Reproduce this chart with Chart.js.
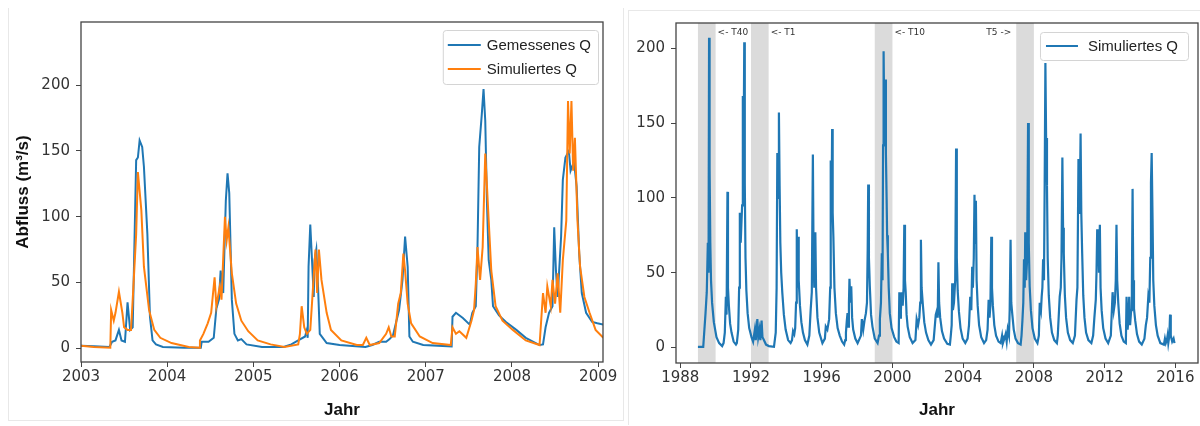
<!DOCTYPE html>
<html>
<head>
    <title>Abfluss Gemessen / Simuliert</title>
    <style>
        body { margin: 0; background: #fff; width: 1200px; height: 426px; overflow: hidden; position: relative; }
        .box { position: absolute; }
        #leftBox { left: 0; top: 0; width: 620px; height: 426px; }
        #rightBox { left: 620px; top: 0; width: 580px; height: 426px; }
        .frameL { position: absolute; left: 8px; top: 8px; width: 614px; height: 412px; border-left: 1px solid #e8e8e8; border-right: 1px solid #e8e8e8; border-bottom: 1px solid #e8e8e8; }
        .frameR { position: absolute; left: 628px; top: 10px; width: 572px; height: 414px; border-left: 1px solid #e8e8e8; border-top: 1px solid #e8e8e8; }
    </style>
</head>
<body>
    <div class="frameL"></div>
    <div class="frameR"></div>
    <div class="box" id="leftBox"><canvas id="leftChart" width="620" height="426"></canvas></div>
    <div class="box" id="rightBox"><canvas id="rightChart" width="580" height="426"></canvas></div>

    <script src="https://cdn.jsdelivr.net/npm/chart.js"></script>
    <script>
        // [Jahr, Q in m3/s]
        const gemessenQ = [
            [2003.00,2],[2003.15,1.5],[2003.33,1],[2003.36,5],[2003.40,6],[2003.44,14],[2003.47,6],[2003.51,5],[2003.54,35],[2003.57,14],
            [2003.60,16],[2003.64,143],[2003.66,145],[2003.68,158],[2003.71,153],[2003.73,138],[2003.77,87],[2003.80,24],[2003.83,6],[2003.87,3],
            [2003.95,1],[2004.20,0.5],[2004.39,0.5],[2004.40,5],[2004.48,5],[2004.54,8],[2004.57,30],[2004.60,37],[2004.62,59],[2004.65,42],
            [2004.68,112],[2004.70,133],[2004.72,118],[2004.75,37],[2004.78,11],[2004.82,6],[2004.86,7],[2004.92,3],[2005.10,1],[2005.35,1],
            [2005.44,3],[2005.52,6],[2005.60,9],[2005.62,14],[2005.63,8],[2005.64,62],[2005.66,94],[2005.68,67],[2005.70,39],[2005.71,67],
            [2005.73,75],[2005.75,47],[2005.77,11],[2005.85,4],[2006.00,2.5],[2006.30,1],[2006.38,2.5],[2006.46,5],[2006.54,5],[2006.58,7],
            [2006.62,10],[2006.66,21],[2006.69,29],[2006.73,52],[2006.76,85],[2006.79,62],[2006.81,9],[2006.85,5],[2006.97,2.5],[2007.30,1.5],
            [2007.31,24],[2007.35,27],[2007.43,23],[2007.51,18],[2007.54,27],[2007.58,32],[2007.60,77],[2007.62,153],[2007.65,178],[2007.67,197],
            [2007.69,173],[2007.71,110],[2007.73,67],[2007.76,52],[2007.78,32],[2007.85,25],[2007.93,20],[2008.05,14],[2008.16,8],[2008.32,2.5],
            [2008.36,3],[2008.39,16],[2008.43,27],[2008.47,32],[2008.49,92],[2008.51,59],[2008.53,39],[2008.57,85],[2008.59,128],[2008.62,145],
            [2008.66,150],[2008.68,135],[2008.72,142],[2008.75,123],[2008.78,72],[2008.81,42],[2008.86,27],[2008.93,20],[2008.99,19],[2009.06,18]
        ];
        const simuliertQ = [
            [2003.00,2],[2003.15,1],[2003.34,0.5],[2003.35,29],[2003.38,21],[2003.40,27],[2003.44,43],[2003.48,27],[2003.50,16],[2003.54,14],
            [2003.58,14],[2003.60,37],[2003.64,87],[2003.66,134],[2003.70,105],[2003.73,62],[2003.79,29],[2003.85,14],[2003.92,8],[2004.05,4],
            [2004.25,1],[2004.37,0.5],[2004.38,6],[2004.42,11],[2004.47,19],[2004.51,27],[2004.55,54],[2004.57,32],[2004.61,47],[2004.63,37],
            [2004.67,100],[2004.69,82],[2004.71,92],[2004.75,57],[2004.80,34],[2004.86,21],[2004.94,13],[2005.05,6],[2005.20,3],[2005.36,1],
            [2005.52,3],[2005.54,11],[2005.56,32],[2005.59,16],[2005.62,11],[2005.66,14],[2005.72,75],[2005.74,42],[2005.76,75],[2005.79,52],
            [2005.85,27],[2005.90,14],[2006.02,6],[2006.20,2.5],[2006.27,2.5],[2006.31,8],[2006.35,2.5],[2006.46,4],[2006.54,11],[2006.57,16],
            [2006.60,9],[2006.64,9],[2006.68,34],[2006.71,42],[2006.74,72],[2006.76,59],[2006.79,34],[2006.83,19],[2006.93,9],[2007.08,4],
            [2007.29,2.5],[2007.31,16],[2007.35,11],[2007.39,13],[2007.47,8],[2007.53,21],[2007.56,29],[2007.58,49],[2007.60,77],[2007.63,52],
            [2007.66,77],[2007.69,148],[2007.71,123],[2007.73,97],[2007.76,59],[2007.81,32],[2007.89,21],[2008.01,14],[2008.16,6],[2008.32,2.5],
            [2008.36,42],[2008.39,27],[2008.41,47],[2008.45,32],[2008.47,52],[2008.50,34],[2008.53,57],[2008.56,27],[2008.59,67],[2008.63,97],
            [2008.65,188],[2008.67,148],[2008.69,188],[2008.71,135],[2008.73,160],[2008.76,97],[2008.79,62],[2008.84,39],[2008.90,27],[2008.97,14],
            [2009.06,8]
        ];
        // Langzeit-Simulation 1989-2015
        const langzeitQ = [
            [1989.00,0.5],[1989.30,0.5],[1989.43,23],[1989.50,37],[1989.56,70],[1989.60,50],[1989.63,207],[1989.66,120],[1989.70,70],[1989.74,45],
            [1989.80,30],[1989.90,17],[1990.05,7],[1990.20,3],[1990.37,1],
            [1990.45,3],[1990.52,10],[1990.58,34],[1990.62,22],[1990.67,104],[1990.70,40],[1990.75,28],[1990.82,16],[1990.90,10],[1991.02,4],[1991.15,2],
            [1991.20,3],[1991.28,12],[1991.33,40],[1991.37,90],[1991.42,70],[1991.47,86],[1991.50,95],[1991.54,168],[1991.58,120],[1991.62,204],
            [1991.65,110],[1991.69,60],[1991.74,38],[1991.81,23],[1991.90,13],[1992.03,7],[1992.12,4],[1992.22,12],[1992.27,5],[1992.36,19],
            [1992.41,7],[1992.48,12],[1992.53,5],[1992.60,18],[1992.65,7],[1992.73,5],[1992.85,2],[1993.01,1],[1993.30,0.5],
            [1993.40,10],[1993.45,40],[1993.49,130],[1993.53,100],[1993.58,157],[1993.62,108],[1993.66,70],[1993.71,50],[1993.77,37],[1993.86,22],
            [1993.96,12],[1994.10,5],[1994.24,3],
            [1994.32,5],[1994.38,11],[1994.45,9],[1994.50,13],[1994.55,30],[1994.59,79],[1994.63,40],[1994.66,74],[1994.70,45],[1994.77,28],
            [1994.85,17],[1994.94,10],[1995.05,5],[1995.19,2],
            [1995.30,8],[1995.38,26],[1995.44,37],[1995.50,129],[1995.54,60],[1995.58,40],[1995.64,77],[1995.68,40],[1995.76,20],[1995.86,10],[1996.04,3],
            [1996.18,6],[1996.23,14],[1996.32,12],[1996.42,19],[1996.48,40],[1996.51,125],[1996.55,85],[1996.59,146],[1996.62,90],[1996.66,74],
            [1996.72,40],[1996.80,23],[1996.90,13],[1997.02,8],[1997.15,4],[1997.27,2],
            [1997.33,5],[1997.37,10],[1997.42,18],[1997.46,23],[1997.50,14],[1997.54,30],[1997.57,46],[1997.62,30],[1997.67,41],[1997.72,20],
            [1997.78,12],[1997.90,6],[1998.03,3],
            [1998.22,8],[1998.27,19],[1998.35,12],[1998.42,18],[1998.50,23],[1998.56,30],[1998.60,65],[1998.63,109],[1998.67,60],[1998.72,41],
            [1998.79,22],[1998.87,14],[1999.00,6],[1999.16,3],
            [1999.24,8],[1999.29,19],[1999.35,30],[1999.40,63],[1999.44,45],[1999.47,135],[1999.50,198],[1999.54,150],[1999.59,179],[1999.63,130],
            [1999.67,100],[1999.70,75],[1999.74,63],[1999.79,40],[1999.85,23],[1999.95,13],[2000.10,7],[2000.22,4],[2000.35,3],
            [2000.39,37],[2000.44,20],[2000.48,25],[2000.52,37],[2000.58,28],[2000.63,40],[2000.67,82],[2000.71,45],[2000.75,37],[2000.80,22],
            [2000.86,14],[2000.98,7],[2001.14,3],
            [2001.30,5],[2001.37,19],[2001.45,15],[2001.52,20],[2001.57,30],[2001.61,72],[2001.65,40],[2001.71,30],[2001.80,17],[2001.90,10],
            [2002.03,5],[2002.18,2],
            [2002.33,5],[2002.38,12],[2002.45,22],[2002.52,25],[2002.56,20],[2002.60,57],[2002.64,30],[2002.70,20],[2002.80,11],[2002.92,6],
            [2003.10,2.5],[2003.25,2],
            [2003.30,8],[2003.35,15],[2003.38,43],[2003.42,25],[2003.48,30],[2003.55,45],[2003.60,133],[2003.64,60],[2003.69,38],[2003.76,24],
            [2003.85,13],[2003.97,6],[2004.12,3],
            [2004.25,6],[2004.33,15],[2004.40,34],[2004.46,25],[2004.51,54],[2004.55,40],[2004.60,60],[2004.64,102],[2004.68,70],[2004.72,98],
            [2004.76,45],[2004.82,28],[2004.90,15],[2005.02,7],[2005.18,3],
            [2005.30,5],[2005.38,12],[2005.44,32],[2005.49,20],[2005.54,28],[2005.59,74],[2005.63,40],[2005.68,28],[2005.76,15],[2005.86,8],
            [2006.00,4],[2006.12,3],[2006.20,8],[2006.25,3],
            [2006.33,6],[2006.40,9],[2006.46,4],[2006.52,12],[2006.59,8],[2006.63,25],[2006.68,72],[2006.72,30],[2006.78,22],[2006.86,12],
            [2006.96,6],[2007.10,3],[2007.25,2],
            [2007.30,8],[2007.35,18],[2007.40,30],[2007.44,59],[2007.48,40],[2007.51,77],[2007.56,45],[2007.62,60],[2007.67,150],[2007.71,70],
            [2007.76,41],[2007.83,25],[2007.92,13],[2008.05,6],[2008.20,3],
            [2008.28,8],[2008.33,30],[2008.40,25],[2008.44,34],[2008.48,40],[2008.52,59],[2008.57,45],[2008.61,110],[2008.65,190],[2008.69,140],
            [2008.74,108],[2008.78,60],[2008.84,35],[2008.92,20],[2009.02,10],[2009.15,5],[2009.30,3],
            [2009.35,8],[2009.40,20],[2009.46,34],[2009.52,40],[2009.56,60],[2009.61,127],[2009.65,80],[2009.69,63],[2009.75,35],[2009.82,20],
            [2009.92,10],[2010.05,5],[2010.20,3],
            [2010.32,8],[2010.41,32],[2010.46,40],[2010.52,126],[2010.56,90],[2010.60,100],[2010.64,143],[2010.68,90],[2010.73,63],[2010.79,35],
            [2010.86,20],[2010.95,10],[2011.08,5],[2011.25,3],
            [2011.35,8],[2011.42,20],[2011.50,32],[2011.54,50],[2011.58,79],[2011.61,60],[2011.64,72],[2011.68,50],[2011.73,82],[2011.77,40],
            [2011.83,25],[2011.92,13],[2012.05,6],[2012.20,3],
            [2012.35,8],[2012.45,37],[2012.52,25],[2012.58,30],[2012.63,45],[2012.67,82],[2012.71,45],[2012.77,30],[2012.85,16],[2012.95,8],
            [2013.08,4],[2013.20,3],
            [2013.24,34],[2013.30,12],[2013.35,20],[2013.39,34],[2013.44,15],[2013.50,25],[2013.54,40],[2013.58,106],[2013.62,45],[2013.66,26],
            [2013.73,18],[2013.83,9],[2013.95,4],[2014.10,2],
            [2014.25,6],[2014.33,15],[2014.40,20],[2014.47,34],[2014.53,30],[2014.58,60],[2014.62,110],[2014.66,130],[2014.71,86],[2014.75,45],
            [2014.81,28],[2014.90,15],[2015.00,8],[2015.15,3],[2015.35,2],
            [2015.41,6],[2015.46,3],[2015.52,5],[2015.56,8],[2015.60,3],[2015.66,8],[2015.70,22],[2015.74,8],[2015.82,4],[2015.90,6],[2015.95,3]
        ];

        const leftXTicks = [2003, 2004, 2005, 2006, 2007, 2008, 2009];
        const rightXTicks = [1988, 1992, 1996, 2000, 2004, 2008, 2012, 2016];
        const yTicks = [0, 50, 100, 150, 200];

        // grau hinterlegte Zeiträume + Beschriftung
        const spans = [[1989, 1990], [1992, 1993], [1999, 2000], [2007, 2008]];
        const spanLabels = [
            { text: '<- T40', at: 1990, side: 'right' },
            { text: '<- T1', at: 1993, side: 'right' },
            { text: '<- T10', at: 2000, side: 'right' },
            { text: 'T5 ->', at: 2007, side: 'left' }
        ];

        const BLUE = '#1f77b4', ORANGE = '#ff7f0e';
        const tickFont = { family: 'DejaVu Sans', size: 15 };
        const titleFont = { family: 'Liberation Sans', size: 17, weight: 'bold' };

        const toXY = arr => arr.map(p => ({ x: p[0], y: p[1] }));

        const framePlugin = {
            id: 'frame',
            afterDraw(chart) {
                const a = chart.chartArea, c = chart.ctx;
                c.save();
                c.strokeStyle = '#444';
                c.lineWidth = 1.3;
                c.strokeRect(a.left, a.top, a.right - a.left, a.bottom - a.top);
                c.restore();
            }
        };

        const boxLegend = {
            id: 'boxLegend',
            afterDraw(chart, args, o) {
                const c = chart.ctx, a = chart.chartArea;
                c.save();
                c.font = '15px "Liberation Sans", Arial, sans-serif';
                const items = chart.data.datasets;
                const tw = Math.max(...items.map(d => c.measureText(d.label).width));
                const w = o.padL + o.lineLen + o.gap + tw + o.padR;
                const h = 6 + items.length * o.row;
                const x = a.right - o.inset - w, y = a.top + o.top;
                c.fillStyle = 'rgba(255,255,255,0.85)';
                c.strokeStyle = '#d4d4d4';
                c.lineWidth = 1;
                c.beginPath();
                c.roundRect(x + 0.5, y + 0.5, w, h, 3);
                c.fill(); c.stroke();
                items.forEach((d, i) => {
                    const cy = y + 3 + o.row * (i + 0.5);
                    c.strokeStyle = d.borderColor;
                    c.lineWidth = 2.2;
                    c.beginPath();
                    c.moveTo(x + o.padL, cy); c.lineTo(x + o.padL + o.lineLen, cy);
                    c.stroke();
                    c.fillStyle = '#222';
                    c.textBaseline = 'middle';
                    c.fillText(d.label, x + o.padL + o.lineLen + o.gap, cy + 1);
                });
                c.restore();
            }
        };

        const spanPlugin = {
            id: 'spans',
            beforeDatasetsDraw(chart) {
                const c = chart.ctx, a = chart.chartArea, xs = chart.scales.x;
                c.save();
                c.fillStyle = 'rgba(190,190,190,0.55)';
                spans.forEach(s => {
                    const x0 = xs.getPixelForValue(s[0]), x1 = xs.getPixelForValue(s[1]);
                    c.fillRect(x0, a.top, x1 - x0, a.bottom - a.top);
                });
                c.font = '9px "DejaVu Sans"';
                c.fillStyle = '#333';
                c.textBaseline = 'middle';
                spanLabels.forEach(l => {
                    const px = xs.getPixelForValue(l.at);
                    c.textAlign = l.side === 'right' ? 'left' : 'right';
                    c.fillText(l.text, l.side === 'right' ? px + 2 : px - 5, a.top + 10);
                });
                c.restore();
            }
        };

        function xAxis(min, max, ticks, height) {
            return {
                type: 'linear', min: min, max: max,
                afterBuildTicks: s => { s.ticks = ticks.map(v => ({ value: v })); },
                afterFit: s => { s.height = height; s.paddingLeft = 0; s.paddingRight = 0; },
                border: { display: false },
                grid: { drawOnChartArea: false, drawTicks: true, tickLength: 5, color: '#444' },
                ticks: { font: tickFont, color: '#333', padding: 1, maxRotation: 0, callback: v => String(v) },
                title: { display: true, text: 'Jahr', font: titleFont, color: '#111', padding: { top: 0, bottom: 5 } }
            };
        }

        function yAxis(min, max, width, title) {
            return {
                min: min, max: max,
                afterBuildTicks: s => { s.ticks = yTicks.map(v => ({ value: v })); },
                afterFit: s => { s.width = width; s.paddingTop = 0; s.paddingBottom = 0; },
                border: { display: false },
                grid: { drawOnChartArea: false, drawTicks: true, tickLength: 5, color: '#444' },
                ticks: { font: tickFont, color: '#333', padding: 6, callback: v => String(v) },
                title: title ? { display: true, text: title, font: titleFont, color: '#111', padding: { top: 13, bottom: 0 } } : { display: false }
            };
        }

        new Chart(document.getElementById('leftChart'), {
            type: 'line',
            data: {
                datasets: [
                    { label: 'Gemessenes Q', data: toXY(gemessenQ), borderColor: BLUE, borderWidth: 2, pointRadius: 0, tension: 0, order: 1 },
                    { label: 'Simuliertes Q', data: toXY(simuliertQ), borderColor: ORANGE, borderWidth: 2, pointRadius: 0, tension: 0, order: 0 }
                ]
            },
            options: {
                responsive: false, animation: false, devicePixelRatio: 1,
                layout: { padding: { left: 0, top: 22, right: 17, bottom: 0 } },
                plugins: {
                    legend: { display: false }, tooltip: { enabled: false },
                    boxLegend: { inset: 5, top: 8, row: 24, padL: 5, lineLen: 33, gap: 6, padR: 7 }
                },
                scales: {
                    x: xAxis(2003, 2009.056, leftXTicks, 64),
                    y: yAxis(-10.4, 248, 81, 'Abfluss (m³/s)')
                }
            },
            plugins: [framePlugin, boxLegend]
        });

        new Chart(document.getElementById('rightChart'), {
            type: 'line',
            data: {
                datasets: [
                    { label: 'Simuliertes Q', data: toXY(langzeitQ), borderColor: BLUE, borderWidth: 2.2, pointRadius: 0, tension: 0 }
                ]
            },
            options: {
                responsive: false, animation: false, devicePixelRatio: 1,
                layout: { padding: { left: 0, top: 23, right: 2, bottom: 0 } },
                plugins: {
                    legend: { display: false }, tooltip: { enabled: false },
                    boxLegend: { inset: 10, top: 9, row: 22, padL: 6, lineLen: 32, gap: 10, padR: 10 }
                },
                scales: {
                    x: xAxis(1987.76, 2017.28, rightXTicks, 63),
                    y: yAxis(-10.3, 216.8, 56, null)
                }
            },
            plugins: [spanPlugin, framePlugin, boxLegend]
        });
    </script>
</body>
</html>
